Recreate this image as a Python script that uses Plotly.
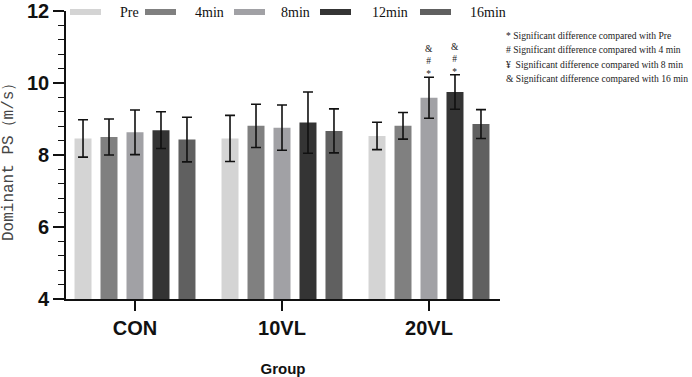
import plotly.graph_objects as go

groups = ["CON", "10VL", "20VL"]
series = ["Pre", "4min", "8min", "12min", "16min"]
means = {
    "Pre":   [8.46, 8.46, 8.53],
    "4min":  [8.50, 8.81, 8.81],
    "8min":  [8.63, 8.76, 9.59],
    "12min": [8.69, 8.90, 9.75],
    "16min": [8.43, 8.67, 8.86],
}
errors = {
    "Pre":   [0.52, 0.64, 0.38],
    "4min":  [0.50, 0.60, 0.37],
    "8min":  [0.62, 0.63, 0.57],
    "12min": [0.51, 0.85, 0.48],
    "16min": [0.62, 0.61, 0.40],
}
colors = ["#d4d4d4", "#808080", "#a1a1a5", "#343434", "#606060"]
sig_marks = {("20VL", "8min"): ["&", "#", "*"], ("20VL", "12min"): ["&", "#", "*"]}
notes = [
    "* Significant difference compared with Pre",
    "# Significant difference compared with 4 min",
    "\u00a5&nbsp; Significant difference compared with 8 min",
    "& Significant difference compared with 16 min",
]
y_title = "Dominant PS\uff08m/s\uff09"
x_title = "Group"

W, H = 692, 377
ML, MR, MT, MB = 66, 192, 11, 78
PW, PH = W - ML - MR, H - MT - MB
CAT = 147.0
BARGAP = 0.116
BARGROUPGAP = 0.346
x0 = -(135 - ML) / CAT
x1 = x0 + PW / CAT

fig = go.Figure()
for s, c in zip(series, colors):
    fig.add_trace(go.Bar(
        name=s, x=groups, y=means[s], marker=dict(color=c, line=dict(width=0)),
        error_y=dict(type="data", array=errors[s], visible=True, color="#111111",
                     thickness=1.6, width=5),
        showlegend=False, hoverinfo="skip",
    ))

slot = CAT * (1 - BARGAP) / len(series)
annotations = []
for (g, s), marks in sig_marks.items():
    gi = groups.index(g)
    si = series.index(s)
    top = means[s][gi] + errors[s][gi]
    annotations.append(dict(
        x=g, y=top, xref="x", yref="y", text="<br>".join(marks), showarrow=False,
        xshift=(si - (len(series) - 1) / 2) * slot,
        yshift=-4, yanchor="bottom",
        font=dict(family="Liberation Serif", size=9.5, color="#222222"),
    ))

def px2paper_x(px):
    return (px - ML) / PW

def px2paper_y(py):
    return (MT + PH - py) / PH

shapes = []
leg_swatch_x = [70, 145, 234, 320, 420]
leg_text_x = [118, 193, 279, 370, 468]
for s, c, sx, tx in zip(series, colors, leg_swatch_x, leg_text_x):
    shapes.append(dict(type="rect", xref="paper", yref="paper",
                       x0=px2paper_x(sx), x1=px2paper_x(sx + 31),
                       y0=px2paper_y(15), y1=px2paper_y(9),
                       fillcolor=c, line=dict(width=0)))
    annotations.append(dict(x=px2paper_x(tx), y=px2paper_y(13), xref="paper", yref="paper",
                            text=s, showarrow=False, xanchor="left", yanchor="middle",
                            font=dict(family="Liberation Serif", size=14, color="#111111")))

for i, t in enumerate(notes):
    annotations.append(dict(x=px2paper_x(504), y=px2paper_y(35 + 14.6 * i), xref="paper", yref="paper",
                            text=t, showarrow=False, xanchor="left", yanchor="middle",
                            font=dict(family="Liberation Serif", size=9.6, color="#222222")))

annotations.append(dict(x=px2paper_x(9), y=px2paper_y(158), xref="paper", yref="paper",
                        text=y_title, textangle=-90, showarrow=False,
                        xanchor="center", yanchor="middle",
                        font=dict(family="Liberation Mono", size=16, color="#454545")))

fig.update_layout(
    width=W, height=H, margin=dict(l=ML, r=MR, t=MT, b=MB),
    paper_bgcolor="white", plot_bgcolor="white",
    barmode="group", bargap=BARGAP, bargroupgap=BARGROUPGAP,
    annotations=annotations, shapes=shapes,
    xaxis=dict(range=[x0, x1], showline=True, linecolor="#111111", linewidth=1.6,
               ticks="outside", ticklen=10, tickwidth=1.6, tickcolor="#111111",
               tickfont=dict(family="Arial, Liberation Sans", size=20, color="#111111", weight="bold"),
               showgrid=False, zeroline=False, automargin=False,
               title=dict(text=x_title, standoff=26,
                          font=dict(family="Arial, Liberation Sans", size=15, color="#111111", weight="bold"))),
    yaxis=dict(range=[4, 12], tick0=4, dtick=2, showline=True, linecolor="#111111", linewidth=1.6,
               ticks="outside", ticklen=11, tickwidth=1.6, tickcolor="#111111",
               tickfont=dict(family="Arial, Liberation Sans", size=20, color="#111111", weight="bold"),
               minor=dict(dtick=0.4, tick0=4, ticks="outside", ticklen=6, tickwidth=1.4, tickcolor="#111111"),
               showgrid=False, zeroline=False, automargin=False),
)

fig.write_html("out.html", config={"displayModeBar": False},
               post_script="document.body.style.margin='0';")
